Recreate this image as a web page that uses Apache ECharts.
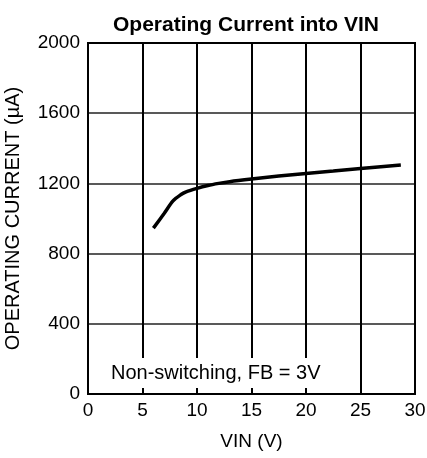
<!DOCTYPE html>
<html>
<head>
<meta charset="utf-8">
<script src="https://cdn.jsdelivr.net/npm/echarts@6/dist/echarts.min.js"></script>
<style>
html,body{margin:0;padding:0;background:#fff;}
#c{width:427px;height:458px;}
</style>
</head>
<body>
<div id="c"></div>
<script>
var vin = [6, 7, 7.8, 8.5, 9, 10, 11, 12, 13, 15, 17.5, 20, 22.5, 25, 28.7];
var current = [945, 1030, 1100, 1135, 1152, 1172, 1188, 1200, 1210, 1225, 1242, 1257, 1271, 1285, 1305];
var xTicks = [0, 5, 10, 15, 20, 25, 30];
var yTicks = [0, 400, 800, 1200, 1600, 2000];
var titleText = 'Operating Current into VIN';
var xName = 'VIN (V)';
var yName = 'OPERATING CURRENT (\u00B5A)';
var noteText = 'Non-switching, FB = 3V';

var FONT = '"Liberation Sans", Arial, sans-serif';
var chart = echarts.init(document.getElementById('c'), null, {renderer: 'canvas'});
var pts = vin.map(function (v, i) { return [v, current[i]]; });

chart.setOption({
  animation: false,
  backgroundColor: '#fff',
  title: {
    text: titleText,
    left: 108,
    top: 10,
    textStyle: {fontFamily: FONT, fontSize: 21, fontWeight: 'bold', color: '#000'}
  },
  grid: {left: 88, right: 12, top: 43, bottom: 64, containLabel: false, outerBoundsMode: 'none',
         show: true, borderColor: '#000', borderWidth: 2, backgroundColor: 'transparent', z: 3},
  xAxis: {
    type: 'value', min: xTicks[0], max: xTicks[xTicks.length - 1], interval: 5,
    name: xName, nameLocation: 'middle', nameGap: 38,
    nameTextStyle: {fontFamily: FONT, fontSize: 19, color: '#000'},
    axisLine: {show: true, lineStyle: {color: '#000', width: 2}},
    axisTick: {show: false},
    axisLabel: {fontFamily: FONT, fontSize: 19, color: '#000', margin: 7, formatter: function (v) { return String(v); }},
    splitLine: {show: true, lineStyle: {color: '#000', width: 2}}
  },
  yAxis: {
    type: 'value', min: yTicks[0], max: yTicks[yTicks.length - 1], interval: 400,
    name: yName, nameLocation: 'middle', nameGap: 65,
    nameTextStyle: {fontFamily: FONT, fontSize: 20, color: '#000'},
    axisLine: {show: true, lineStyle: {color: '#000', width: 2}},
    axisTick: {show: false},
    axisLabel: {fontFamily: FONT, fontSize: 19, color: '#000', margin: 8, formatter: function (v) { return String(v); }},
    splitLine: {show: true, lineStyle: {color: '#222', width: 1.5}}
  },
  graphic: [{
    type: 'rect', z: 2,
    shape: {x: 108, y: 358, width: 216, height: 30},
    style: {fill: '#fff'}
  }, {
    type: 'text', z: 4,
    x: 111, y: 373,
    style: {text: noteText, fontFamily: FONT, fontSize: 20, fill: '#000', textVerticalAlign: 'middle', verticalAlign: 'middle'}
  }],
  series: [{
    type: 'line', data: pts, smooth: 0.3, showSymbol: false, symbol: 'none',
    z: 5,
    lineStyle: {color: '#000', width: 3.5}
  }]
});
</script>
</body>
</html>
